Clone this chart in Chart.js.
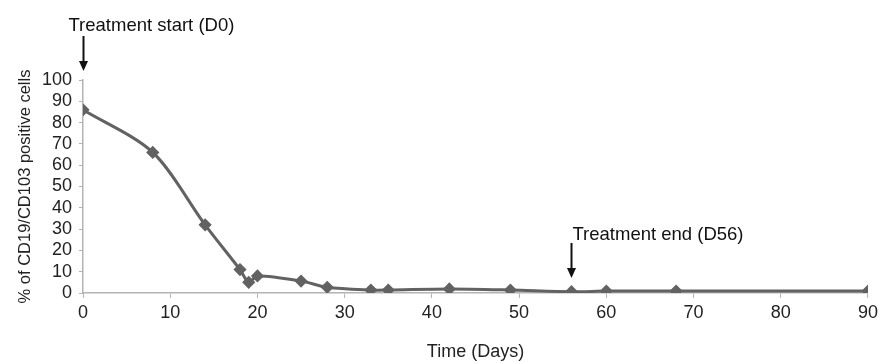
<!DOCTYPE html>
<html>
<head>
<meta charset="utf-8">
<script src="https://cdn.jsdelivr.net/npm/chart.js@4.4.1/dist/chart.umd.min.js"></script>
<style>
  html, body { margin: 0; padding: 0; background: #fff; }
  #wrap { width: 882px; height: 363px; }
</style>
</head>
<body>
<div id="wrap"><canvas id="chart"></canvas></div>
<script>
const days = [0, 8, 14, 18, 19, 20, 25, 28, 33, 35, 42, 49, 56, 60, 68, 90]
const percentPositive = [86, 66, 32, 11, 5, 8, 5.6, 2.7, 1.4, 1.4, 1.9, 1.4, 0.6, 0.9, 0.9, 0.9]
const markerDays = [0, 56]
const markerLabels = ['Treatment start (D0)', 'Treatment end (D56)']

const FONT = '"Liberation Sans", Arial, sans-serif'
const GREY = '#626262'
const AXIS = '#b4b4b4'

// arrows + labels for treatment start / end
const markers = {
  id: 'markers',
  afterDraw(chart) {
    const ctx = chart.ctx
    const x = chart.scales.x
    const spots = [
      { tip: 71, tail: 36, textY: 31, textDx: -15 },
      { tip: 278, tail: 243, textY: 240, textDx: 1 }
    ]
    ctx.save()
    ctx.font = '18.5px ' + FONT
    ctx.fillStyle = '#111'
    ctx.strokeStyle = '#111'
    ctx.lineWidth = 2
    markerDays.forEach((d, i) => {
      const px = Math.round(x.getPixelForValue(d)) + 0.5
      const s = spots[i]
      ctx.beginPath()
      ctx.moveTo(px, s.tail)
      ctx.lineTo(px, s.tip - 8)
      ctx.stroke()
      ctx.beginPath()
      ctx.moveTo(px - 4.5, s.tip - 10)
      ctx.lineTo(px + 4.5, s.tip - 10)
      ctx.lineTo(px, s.tip)
      ctx.closePath()
      ctx.fill()
      ctx.textAlign = 'left'
      ctx.textBaseline = 'alphabetic'
      ctx.fillText(markerLabels[i], px + s.textDx, s.textY)
    })
    ctx.restore()
  }
}

new Chart(document.getElementById('chart'), {
  type: 'line',
  data: {
    datasets: [{
      data: days.map((d, i) => ({ x: d, y: percentPositive[i] })),
      borderColor: GREY,
      backgroundColor: GREY,
      borderWidth: 3,
      pointStyle: 'rectRot',
      pointRadius: 4.5,
      pointBackgroundColor: GREY,
      pointBorderColor: GREY,
      tension: 0.3,
      fill: false
    }]
  },
  options: {
    responsive: true,
    maintainAspectRatio: false,
    animation: false,
    layout: { padding: { top: 80, right: 0, bottom: 0, left: 0 } },
    plugins: { legend: { display: false }, tooltip: { enabled: false } },
    scales: {
      x: {
        type: 'linear',
        min: 0,
        max: 90,
        ticks: { stepSize: 10, autoSkip: false, maxRotation: 0, color: '#222', font: { family: FONT, size: 18 }, padding: 4 },
        grid: { drawOnChartArea: false, drawTicks: true, tickLength: 5, color: AXIS },
        border: { color: AXIS, width: 1.5 },
        title: { display: true, text: 'Time (Days)', color: '#222', font: { family: FONT, size: 18 }, padding: { top: 6, bottom: 0 } },
        afterFit(scale) { scale.height = 70 }
      },
      y: {
        min: 0,
        max: 100,
        ticks: { stepSize: 10, autoSkip: false, color: '#222', font: { family: FONT, size: 18 }, padding: 7 },
        grid: { drawOnChartArea: false, drawTicks: true, tickLength: 4, color: AXIS },
        border: { color: AXIS, width: 1.5 },
        title: { display: true, text: '% of CD19/CD103 positive cells', color: '#222', font: { family: FONT, size: 16.5 }, padding: { top: 16, bottom: 0 } },
        afterFit(scale) { scale.width = 83 }
      }
    }
  },
  plugins: [markers]
})
</script>
</body>
</html>
